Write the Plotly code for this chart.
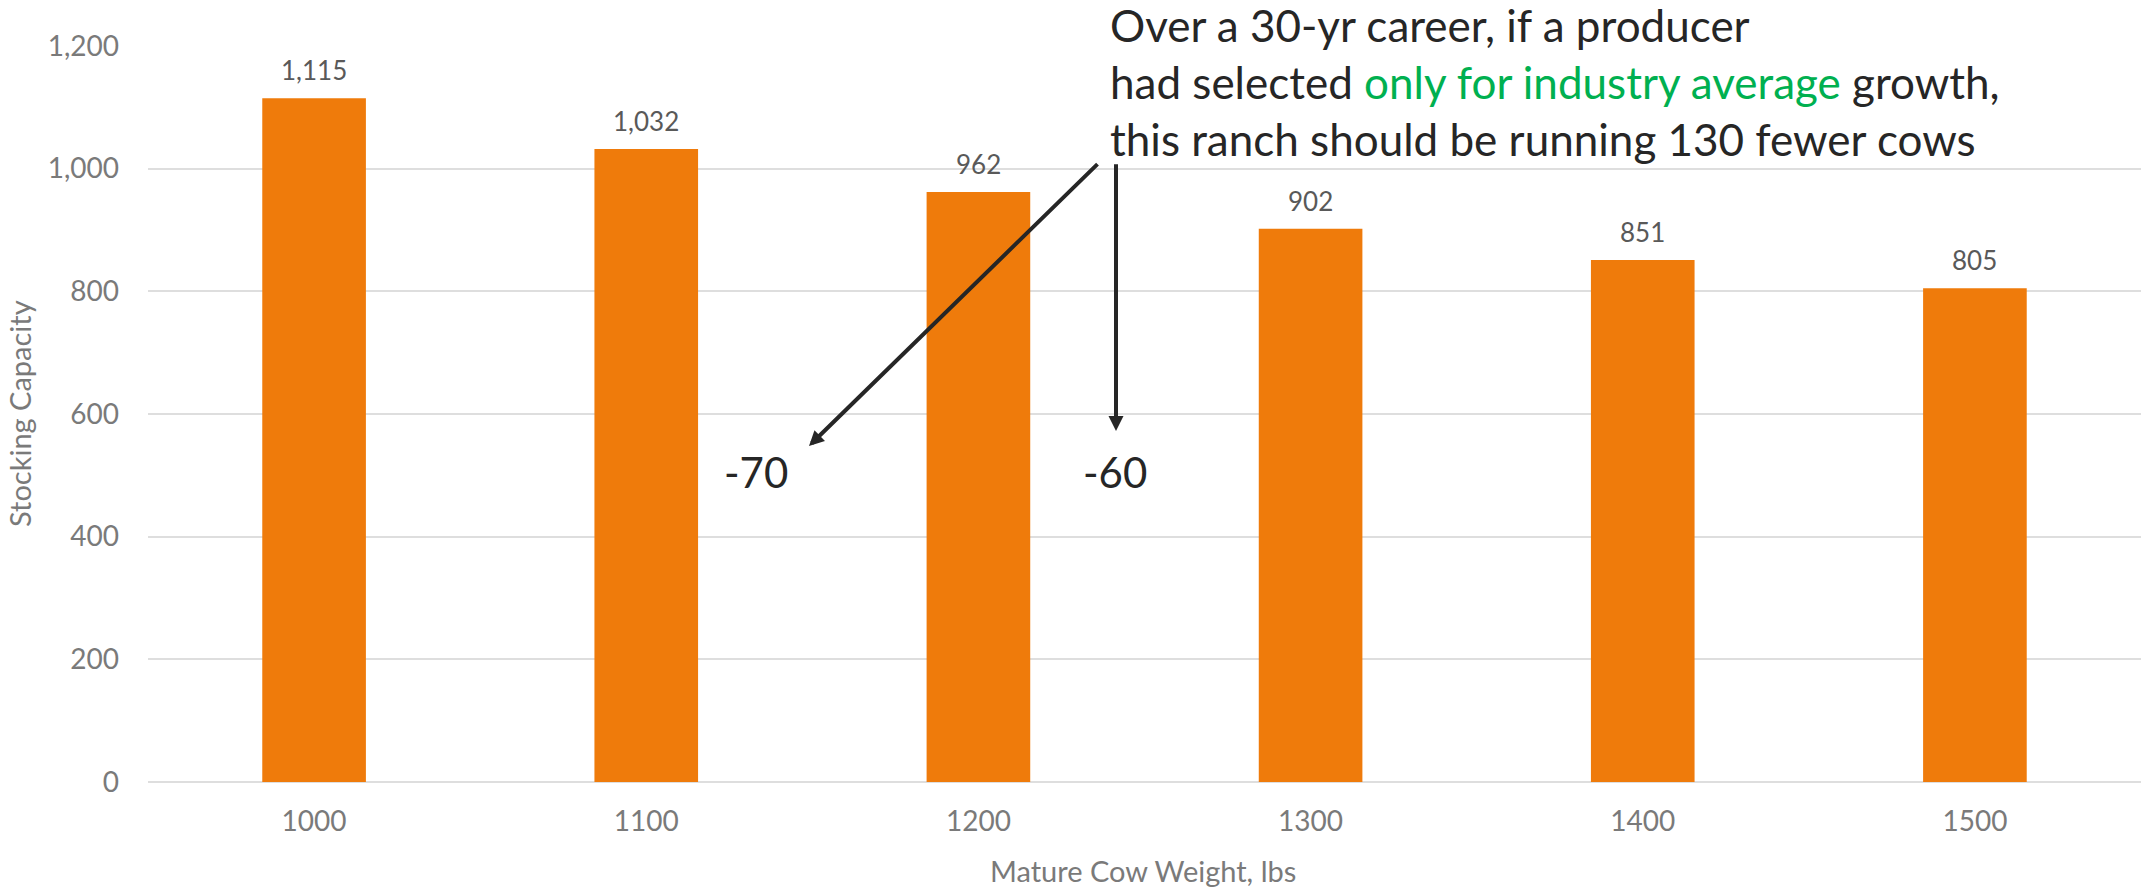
import plotly.graph_objects as go

# Stocking capacity by mature cow weight
weights = ["1000", "1100", "1200", "1300", "1400", "1500"]
capacity = [1115, 1032, 962, 902, 851, 805]

note_lines = [
    "Over a 30-yr career, if a producer",
    'had selected <span style="color:#00B050">only for industry average</span> growth,',
    "this ranch should be running 130 fewer cows",
]
diff_labels = ["-70", "-60"]

W, H = 2141, 893
L, R, T, B = 148, 0, 46, 111
PW, PH = W - L - R, H - T - B


def fx(px):
    return (px - L) / PW


def fy(py):
    return (H - B - py) / PH


FONT = "Lato"
BAR = "#EF7B0B"
TXT = "#262626"

pos = list(range(len(weights)))

fig = go.Figure(
    go.Bar(
        x=pos,
        y=capacity,
        width=0.312,
        marker=dict(color=BAR, line=dict(width=0)),
        hoverinfo="skip",
    )
)

annotations = []

# value labels above each bar
for p, v in zip(pos, capacity):
    annotations.append(dict(
        x=p, y=v, xref="x", yref="y",
        text=f"{v:,}", showarrow=False,
        yanchor="bottom", yshift=10,
        font=dict(family=FONT, size=26, color="#595959"),
    ))

# callout text
for line, py in zip(note_lines, [25, 82, 139]):
    annotations.append(dict(
        x=fx(1109), y=fy(py), xref="paper", yref="paper",
        text=line, showarrow=False, xanchor="left", yanchor="middle",
        borderpad=0,
        font=dict(family=FONT, size=44, color=TXT),
    ))

# arrows from the callout
annotations.append(dict(
    x=fx(809), y=fy(446), xref="paper", yref="paper", text="",
    showarrow=True, ax=1099 - 809, ay=162.7 - 446,
    arrowhead=2, arrowsize=0.75, arrowwidth=4, arrowcolor=TXT, standoff=0,
))
annotations.append(dict(
    x=fx(1116), y=fy(431), xref="paper", yref="paper", text="",
    showarrow=True, ax=0, ay=162.7 - 431,
    arrowhead=2, arrowsize=0.75, arrowwidth=4, arrowcolor=TXT, standoff=0,
))

# differences
for lab, px in zip(diff_labels, [756, 1115]):
    annotations.append(dict(
        x=fx(px), y=fy(472), xref="paper", yref="paper",
        text=lab, showarrow=False, xanchor="center", yanchor="middle",
        font=dict(family=FONT, size=42, color=TXT),
    ))

# axis titles
annotations.append(dict(
    x=fx(19), y=fy(414), xref="paper", yref="paper",
    text="Stocking Capacity", showarrow=False, textangle=-90,
    xanchor="center", yanchor="middle",
    font=dict(family=FONT, size=29, color="#7a7a7a"),
))
annotations.append(dict(
    x=fx(1143), y=fy(870), xref="paper", yref="paper",
    text="Mature Cow Weight, lbs", showarrow=False,
    xanchor="center", yanchor="middle",
    font=dict(family=FONT, size=29, color="#7a7a7a"),
))

fig.update_layout(
    width=W, height=H,
    margin=dict(l=L, r=R, t=T, b=B, pad=0),
    paper_bgcolor="white", plot_bgcolor="white",
    showlegend=False,
    annotations=annotations,
    font=dict(family=FONT),
)

fig.update_xaxes(
    range=[-0.5, len(weights) - 0.5],
    tickvals=pos, ticktext=weights,
    showgrid=False, showline=False, zeroline=False,
    ticks="", ticklabelstandoff=20,
    tickfont=dict(family=FONT, size=28, color="#7a7a7a"),
)
fig.update_yaxes(
    range=[0, 1200],
    tickvals=[0, 200, 400, 600, 800, 1000, 1200],
    tickformat=",",
    showgrid=True, gridcolor="#dedede", gridwidth=2,
    zeroline=True, zerolinecolor="#dedede", zerolinewidth=2,
    showline=False, ticks="", ticklabelstandoff=28,
    tickfont=dict(family=FONT, size=28, color="#7a7a7a"),
)

fig.write_html("out.html")
